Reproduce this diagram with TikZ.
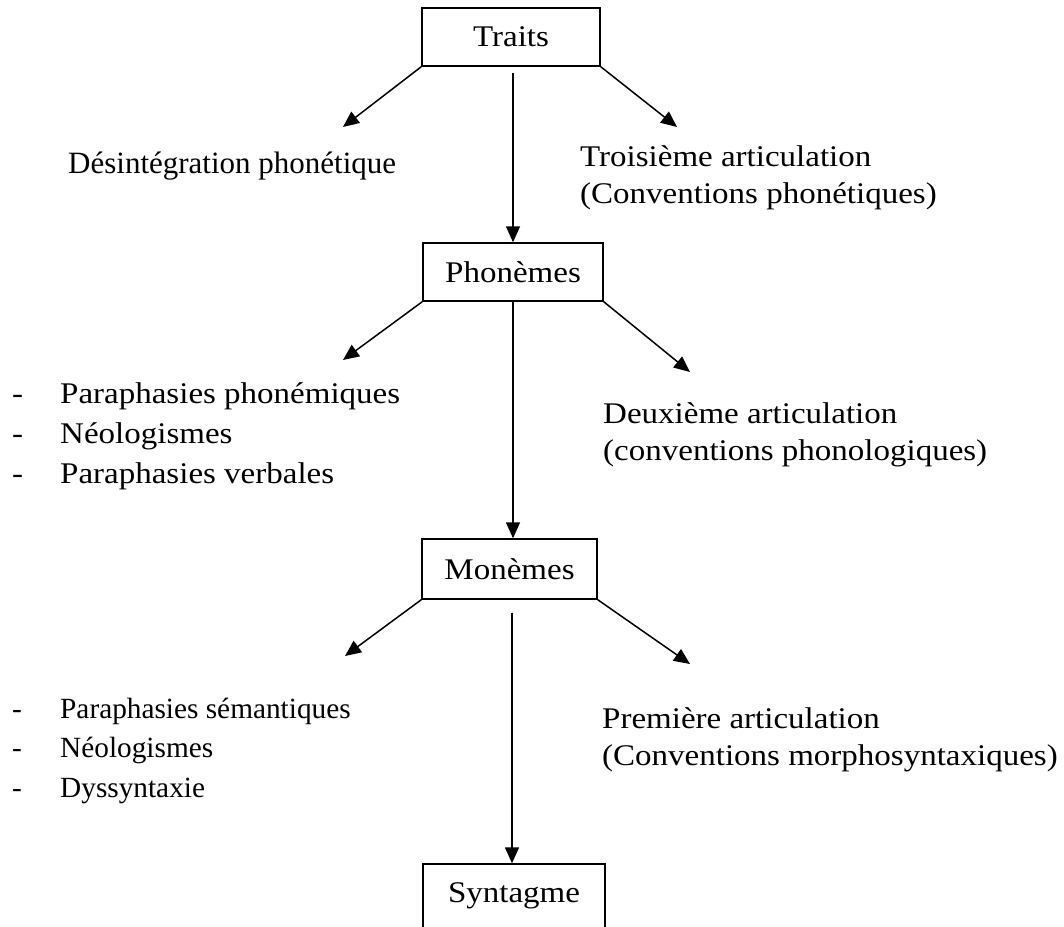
\documentclass[tikz,border=0pt]{standalone}
\usepackage{fontspec}
\setmainfont{Liberation Serif}
\newfontfamily\pal{Liberation Serif}[FakeStretch=1.1]
\usetikzlibrary{arrows.meta}
\begin{document}
\begin{tikzpicture}[x=1pt,y=-1pt,
  box/.style={draw,line width=1.4pt,inner sep=0pt,font=\pal\fontsize{30}{36}\selectfont},
  pt/.style={inner sep=0pt,anchor=base west,font=\pal\fontsize{30}{36}\selectfont},
  tm/.style={inner sep=0pt,anchor=base west,font=\fontsize{31}{36}\selectfont},
  tms/.style={inner sep=0pt,anchor=base west,font=\fontsize{29.3}{36}\selectfont},
  arr/.style={line width=1.5pt,-{Triangle[length=16pt,width=14pt]}}]
\useasboundingbox (0,0) rectangle (1064,926);
% boxes
\node[box,minimum width=178pt,minimum height=58pt] (traits) at (511,37) {Traits};
\node[box,minimum width=180pt,minimum height=58pt] (phon) at (513,272) {Phonèmes};
\node[box,minimum width=175pt,minimum height=60pt] (mon) at (509.5,569) {Monèmes};
\node[box,minimum width=182pt,minimum height=64pt] (synt) at (514,896) {Syntagme};
% free ends
\coordinate (tl) at (343,127);
\coordinate (tr) at (677,127);
\coordinate (pl) at (343,360);
\coordinate (pr) at (690,372);
\coordinate (ml) at (345,656);
\coordinate (mr) at (690,664);
% arrows
\draw[arr] (traits.south west) -- (tl);
\draw[arr] (traits.south east) -- (tr);
\draw[arr] ([yshift=-6pt]traits.south -| phon.north) -- (phon.north);
\draw[arr] (phon.south west) -- (pl);
\draw[arr] (phon.south east) -- (pr);
\draw[arr] (phon.south) -- (phon.south |- mon.north);
\draw[arr] (mon.south west) -- (ml);
\draw[arr] (mon.south east) -- (mr);
\draw[arr] ([xshift=2.5pt,yshift=-13pt]mon.south) -- ([xshift=2.5pt]mon.south |- synt.north);
% texts
\node[tm] (des) at (68,173) {Désintégration phonétique};
\node[pt] (t3a) at (580,166) {Troisième articulation};
\node[pt] (t3b) at (580,203) {(Conventions phonétiques)};
\node[pt] (d2a) at (603,423) {Deuxième articulation};
\node[pt] (d2b) at (603,460) {(conventions phonologiques)};
\node[pt] (p1a) at (602,728) {Première articulation};
\node[pt] (p1b) at (602,765) {(Conventions morphosyntaxiques)};
% list 1
\node[pt] (da1) at (12,403) {-};
\node[pt] (da2) at (12,443) {-};
\node[pt] (da3) at (12,483) {-};
\node[pt] (l1a) at (60,403) {Paraphasies phonémiques};
\node[pt] (l1b) at (60,443) {Néologismes};
\node[pt] (l1c) at (60,483) {Paraphasies verbales};
% list 2
\node[tms] (db1) at (12,718) {-};
\node[tms] (db2) at (12,757) {-};
\node[tms] (db3) at (12,797) {-};
\node[tms] (l2a) at (60,718) {Paraphasies sémantiques};
\node[tms] (l2b) at (60,757) {Néologismes};
\node[tms] (l2c) at (60,797) {Dyssyntaxie};
\end{tikzpicture}
\end{document}
